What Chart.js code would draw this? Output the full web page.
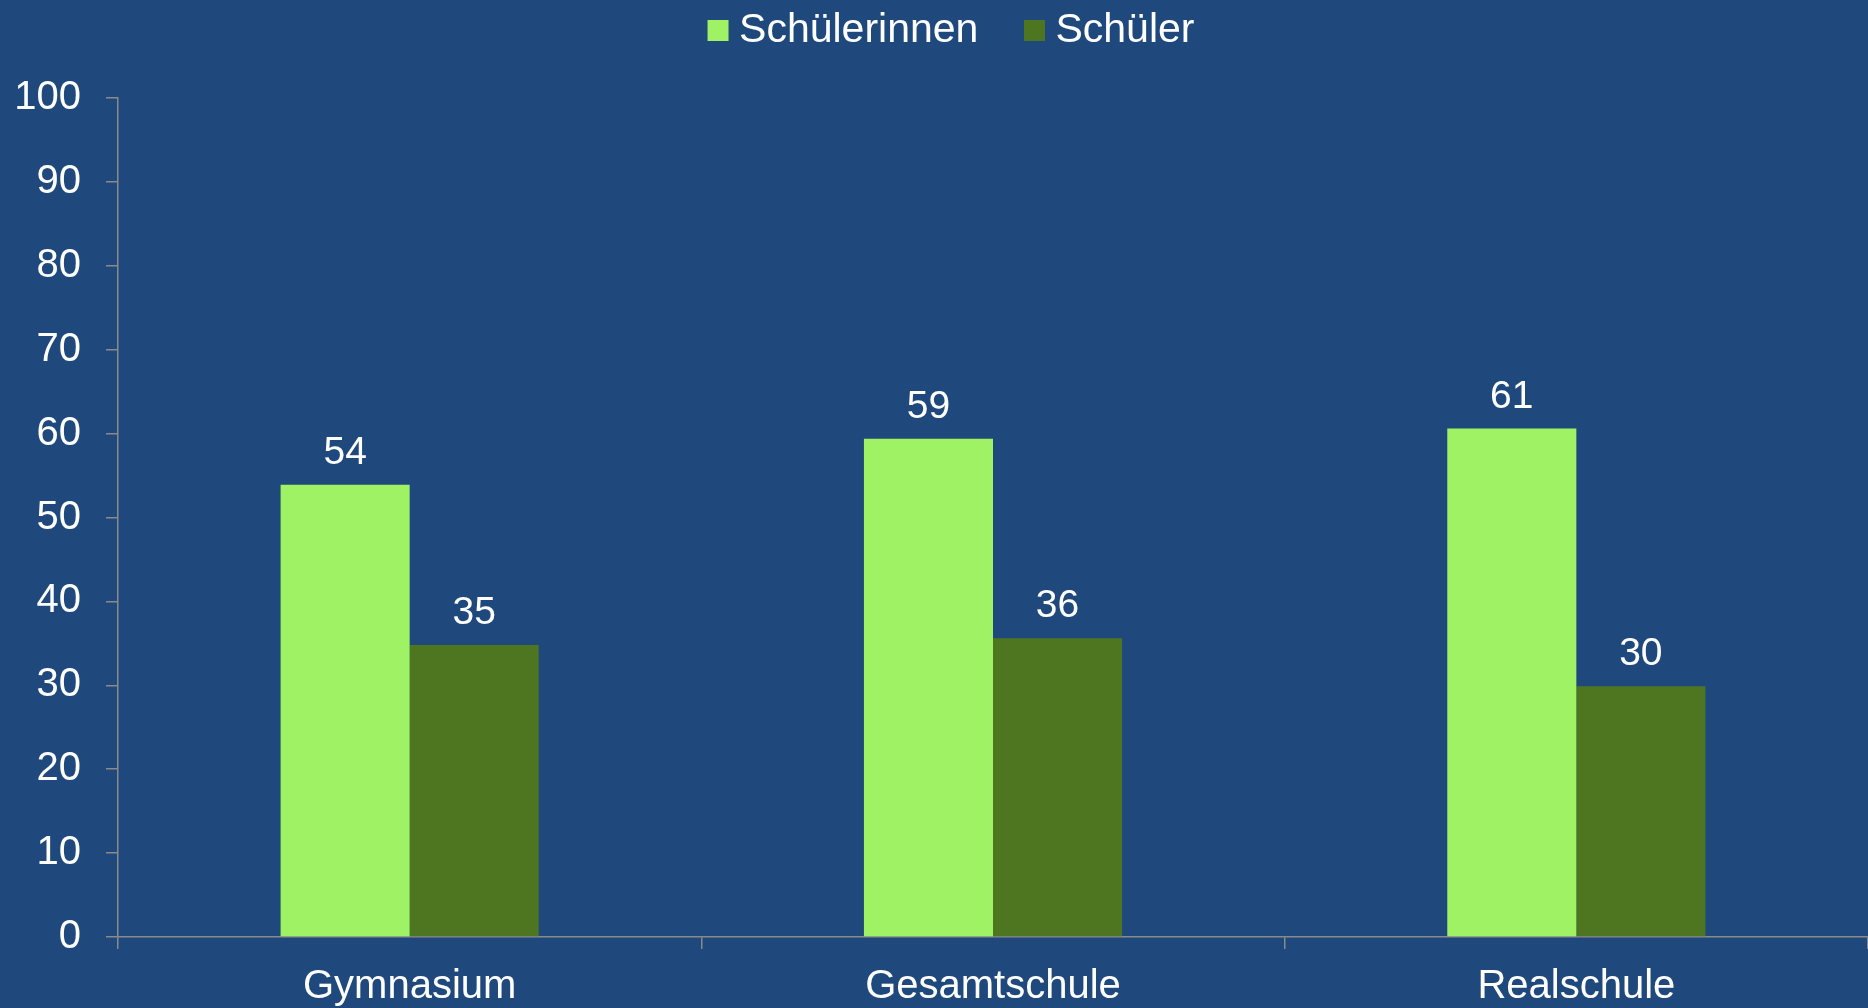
<!DOCTYPE html>
<html>
<head>
<meta charset="utf-8">
<script src="https://cdn.jsdelivr.net/npm/chart.js@4.4.1/dist/chart.umd.min.js"></script>
<style>
  html, body { margin: 0; padding: 0; background: #1F497D; }
  #wrap { width: 1868px; height: 1008px; position: relative; }
</style>
</head>
<body>
<div id="wrap"><canvas id="chart"></canvas></div>
<script>
// values
var schulformen = ['Gymnasium', 'Gesamtschule', 'Realschule'];
var schuelerinnen = [53.9, 59.4, 60.6];
var schueler = [34.8, 35.6, 29.9];
var yTicks = [0, 10, 20, 30, 40, 50, 60, 70, 80, 90, 100];

var fontFamily = '"Liberation Sans", Arial, sans-serif';
var axisGrey = '#8a8a8a';

// write the rounded value over each bar
const valueLabels = {
    id: 'valueLabels',
    afterDatasetsDraw(chart) {
        const ctx = chart.ctx;
        ctx.save();
        ctx.fillStyle = '#ffffff';
        ctx.font = '39px ' + fontFamily;
        ctx.textAlign = 'center';
        ctx.textBaseline = 'alphabetic';
        chart.data.datasets.forEach((ds, i) => {
            chart.getDatasetMeta(i).data.forEach((bar, j) => {
                ctx.fillText(Math.round(ds.data[j]), bar.x, bar.y - 21);
            });
        });
        ctx.restore();
    }
};

// give the legend the full band above the plot, nudged a bit right
const legendBand = {
    id: 'legendBand',
    beforeInit(chart) {
        const fit = chart.legend.fit;
        chart.legend.fit = function () {
            fit.call(this);
            this.height = 98;
        };
    },
    afterLayout(chart) {
        chart.legend.left += 22;
        chart.legend.right += 22;
    }
};

const ctx = document.getElementById('chart').getContext('2d');
new Chart(ctx, {
    type: 'bar',
    data: {
        labels: schulformen,
        datasets: [{
            label: 'Schülerinnen    ',
            data: schuelerinnen,
            backgroundColor: '#9EF263',
            borderWidth: 0
        }, {
            label: 'Schüler',
            data: schueler,
            backgroundColor: '#4E7621',
            borderWidth: 0
        }]
    },
    options: {
        responsive: true,
        maintainAspectRatio: false,
        animation: false,
        layout: { padding: 0 },
        datasets: {
            bar: { categoryPercentage: 0.4425, barPercentage: 1.0 }
        },
        plugins: {
            tooltip: { enabled: false },
            legend: {
                position: 'top',
                labels: {
                    color: '#ffffff',
                    font: { family: fontFamily, size: 41 },
                    usePointStyle: true,
                    pointStyle: 'rect',
                    boxWidth: 1,
                    boxHeight: 21,
                    padding: 10
                }
            }
        },
        scales: {
            x: {
                grid: {
                    display: true,
                    drawOnChartArea: false,
                    drawTicks: true,
                    tickLength: 12,
                    color: axisGrey,
                    lineWidth: 1.5
                },
                border: { display: true, color: axisGrey, width: 1.5 },
                ticks: {
                    color: '#ffffff',
                    font: { family: fontFamily, size: 40 },
                    padding: 14,
                    maxRotation: 0
                },
                afterFit(scale) { scale.height = 71; }
            },
            y: {
                min: 0,
                max: 100,
                afterBuildTicks(scale) {
                    scale.ticks = yTicks.map(v => ({ value: v }));
                },
                grid: {
                    display: true,
                    drawOnChartArea: false,
                    drawTicks: true,
                    tickLength: 12,
                    color: axisGrey,
                    lineWidth: 1.5
                },
                border: { display: true, color: axisGrey, width: 1.5 },
                ticks: {
                    color: '#ffffff',
                    font: { family: fontFamily, size: 40 },
                    padding: 25
                },
                afterFit(scale) { scale.width = 118; }
            }
        }
    },
    plugins: [valueLabels, legendBand]
});
</script>
</body>
</html>
